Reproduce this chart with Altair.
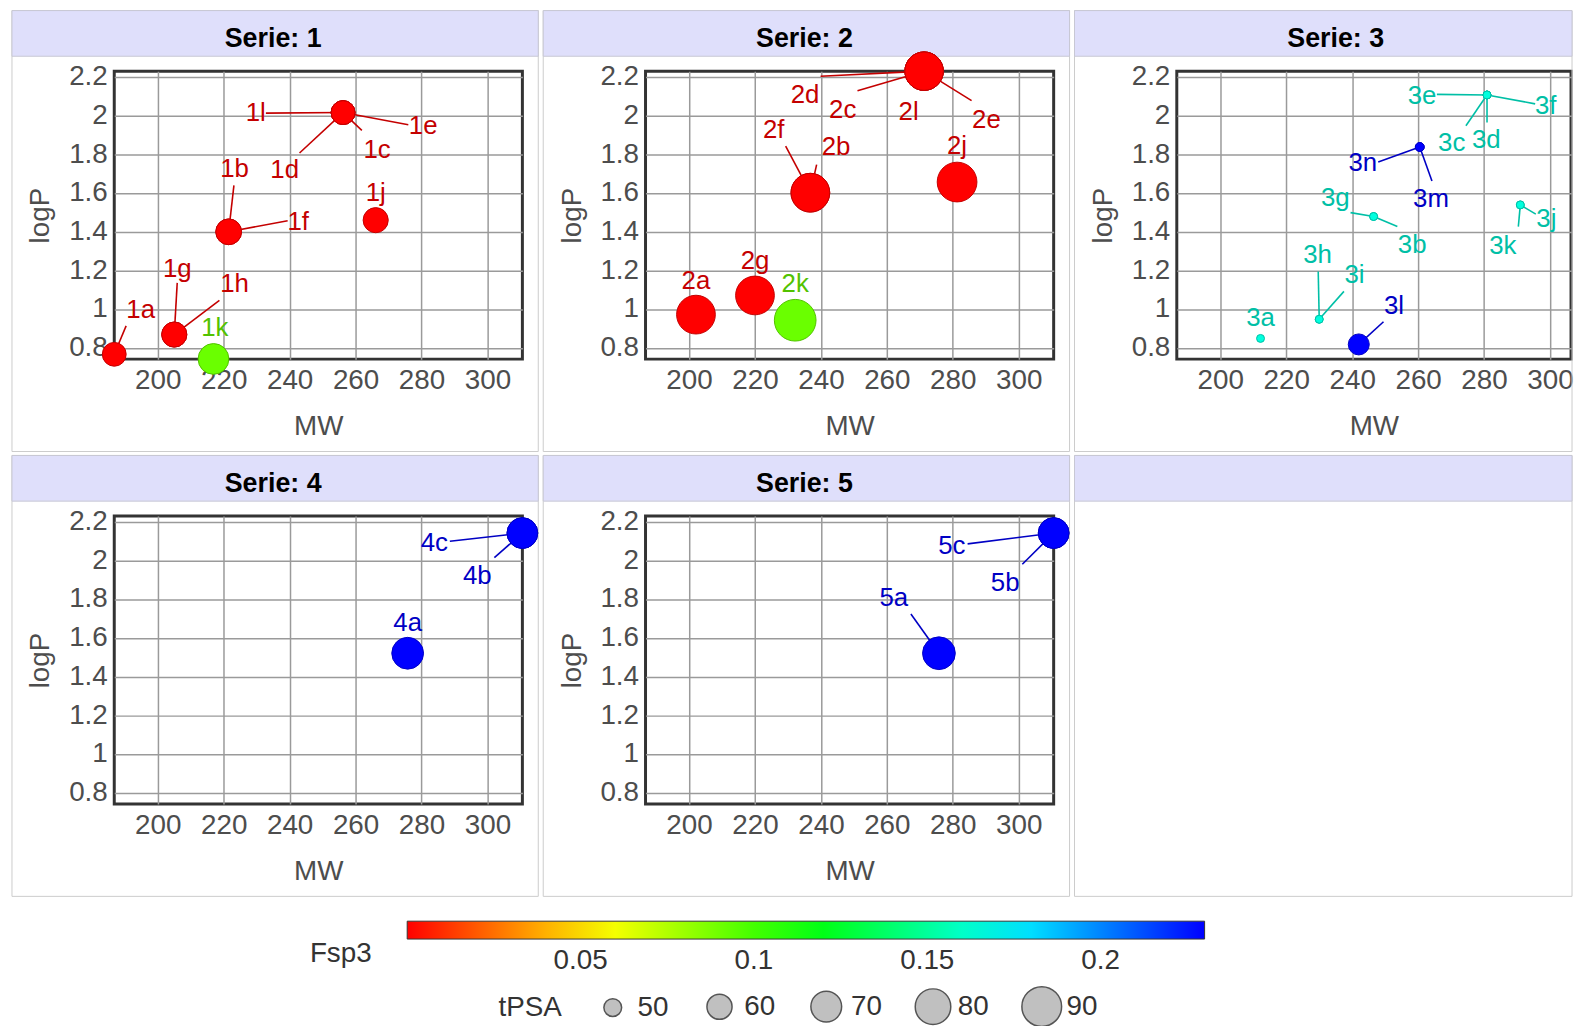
import altair as alt
import pandas as pd

# ---------------- data ----------------
series = [1] * 11 + [2] * 10 + [3] * 14 + [4] * 3 + [5] * 3
labels = ["1a", "1b", "1c", "1d", "1e", "1f", "1g", "1h", "1j", "1k", "1l",
          "2a", "2b", "2c", "2d", "2e", "2f", "2g", "2j", "2k", "2l",
          "3a", "3b", "3c", "3d", "3e", "3f", "3g", "3h", "3i", "3j", "3k", "3l", "3m", "3n",
          "4a", "4b", "4c",
          "5a", "5b", "5c"]
mw = [186.8, 221.5, 256.2, 256.2, 256.2, 221.5, 205.0, 205.0, 266.1, 216.9, 256.2,
      202.1, 236.8, 271.3, 271.3, 271.3, 236.8, 220.0, 281.3, 232.2, 271.3,
      212.2, 246.5, 280.9, 280.9, 280.9, 280.9, 246.5, 230.0, 230.0, 291.0, 291.0, 242.0, 260.5, 260.5,
      275.8, 310.6, 310.6,
      275.8, 310.6, 310.6]
logp = [0.766, 1.399, 2.015, 2.015, 2.015, 1.399, 0.868, 0.868, 1.459, 0.742, 2.015,
        0.971, 1.601, 2.229, 2.229, 2.229, 1.601, 1.070, 1.656, 0.942, 2.229,
        0.848, 1.478, 2.106, 2.106, 2.106, 2.106, 1.478, 0.947, 0.947, 1.538, 1.538, 0.817, 1.837, 1.837,
        1.520, 2.141, 2.141,
        1.520, 2.141, 2.141]
fsp3 = [0, 0, 0, 0, 0, 0, 0, 0, 0, 0.091, 0,
        0, 0, 0, 0, 0, 0, 0, 0, 0.091, 0,
        0.165, 0.165, 0.165, 0.165, 0.165, 0.165, 0.165, 0.165, 0.165, 0.165, 0.165, 0.23, 0.23, 0.23,
        0.23, 0.23, 0.23,
        0.23, 0.23, 0.23]
tpsa = [58, 61, 58, 58, 58, 61, 60, 60, 60, 70, 58,
        87.5, 87.5, 86.6, 86.6, 86.6, 87.5, 87.5, 90, 95, 86.6,
        42, 42, 42, 42, 42, 42, 42, 42, 42, 42, 42, 54, 42.5, 42.5,
        72, 70, 70,
        74, 70, 70]
label_mw = [194.8, 223.3, 266.5, 238.5, 280.5, 242.6, 205.9, 223.3, 266.1, 217.3, 229.7,
            202.1, 244.6, 246.6, 235.2, 290.2, 225.7, 220.0, 281.3, 232.2, 266.6,
            212.2, 258.2, 270.2, 280.7, 261.2, 298.7, 234.9, 229.5, 240.7, 298.9, 285.7, 252.7, 263.9, 243.2,
            275.8, 296.9, 283.9,
            262.1, 295.9, 279.7]
label_logp = [0.993, 1.721, 1.823, 1.717, 1.947, 1.450, 1.207, 1.130, 1.601, 0.899, 2.012,
              1.147, 1.835, 2.029, 2.106, 1.974, 1.923, 1.250, 1.841, 1.130, 2.020,
              0.951, 1.331, 1.858, 1.875, 2.102, 2.049, 1.575, 1.279, 1.177, 1.464, 1.327, 1.016, 1.567, 1.755,
              1.676, 1.921, 2.087,
              1.803, 1.882, 2.073]
segment_mw = [190.4, 223.1, 261.9, 243.0, 276.0, 239.4, 205.9, 218.7, None, None, 232.8,
              None, 238.7, 251.1, 239.9, 285.7, 229.3, None, None, None, 270.3,
              None, 253.7, 274.5, 280.9, 265.7, 295.5, 239.5, 229.7, 237.5, 295.7, 290.4, 249.5, 264.2, 247.9,
              None, 302.1, 288.6,
              267.3, 301.1, 284.5]
segment_logp = [0.913, 1.639, 1.923, 1.806, 1.952, 1.456, 1.135, 1.045, None, None, 2.012,
                None, 1.746, 2.128, 2.203, 2.077, 1.841, None, None, None, 2.128,
                None, 1.426, 1.947, 1.964, 2.109, 2.060, 1.498, 1.194, 1.091, 1.490, 1.426, 0.934, 1.661, 1.760,
                None, 2.014, 2.099,
                1.723, 1.980, 2.085]
strip_titles = ["Serie: 1", "Serie: 2", "Serie: 3", "Serie: 4", "Serie: 5", ""]

x_ticks = [200, 220, 240, 260, 280, 300]
y_ticks = [0.8, 1, 1.2, 1.4, 1.6, 1.8, 2, 2.2]
fsp3_ticks = [0.05, 0.1, 0.15, 0.2]
tpsa_ticks = [50, 60, 70, 80, 90]

df = pd.DataFrame({
    "serie": series, "label": labels, "mw": mw, "logp": logp, "fsp3": fsp3,
    "tpsa": tpsa, "label_mw": label_mw, "label_logp": label_logp,
    "seg_mw": segment_mw, "seg_logp": segment_logp,
})

# ---------------- styling ----------------
FONT = "Liberation Sans"
W, H = 411, 290            # plot area of a full panel
PX_PER_MW = 411 / (310.6 - 186.8)
W3 = 397                   # third column is cut by the page edge, as in the reference
fsp3_stops = [0, 0.0575, 0.115, 0.1725, 0.23]
# darker copy for labels / leader lines; last stop differs by a hair so that
# Vega-Lite keeps its (hidden) legend separate from the colour legend
dark_stops = [0, 0.0575, 0.115, 0.1725, 0.2300001]
rainbow = ["#ff0000", "#ffff00", "#00ff00", "#00ffff", "#0000ff"]
rainbow_dark = ["#c40000", "#c4c400", "#00c000", "#00bfbf", "#0000c4"]

ys = alt.Scale(domain=[0.741, 2.229], nice=False, zero=False)
x_axis = alt.Axis(values=x_ticks, title="MW")
y_axis = alt.Axis(values=y_ticks, format="~g", title="logP")

color_scale = alt.Scale(domain=fsp3_stops, range=rainbow, interpolate="rgb")
dark_scale = alt.Scale(domain=dark_stops, range=rainbow_dark, interpolate="rgb")
size_scale = alt.Scale(domain=[40, 100], range=[0, 1920], zero=False)

color_legend = alt.Legend(
    title="Fsp3", orient="none", direction="horizontal", legendX=197, legendY=856,
    gradientLength=803, gradientThickness=18, gradientStrokeColor="#333333",
    gradientStrokeWidth=1, values=fsp3_ticks, format="~g", titleOrient="left",
    titleAnchor="end", titleBaseline="top", titlePadding=35, labelOffset=8,
)
size_legend = alt.Legend(
    title="tPSA", orient="none", direction="horizontal", legendX=387, legendY=921,
    values=tpsa_ticks, titleOrient="left", titleAnchor="middle", titleBaseline="middle",
    titlePadding=30, columns=5, symbolType="circle", symbolFillColor="#c0c0c0",
    symbolStrokeColor="#555555", symbolStrokeWidth=1.5, labelOffset=4, columnPadding=29.5,
    symbolOpacity=1,
)


def decorations(i, right):
    deco = pd.DataFrame({"strip": [strip_titles[i]]})
    cell = alt.Chart(deco).mark_rect(fillOpacity=0, stroke="#cccccc", strokeWidth=1).encode(
        x=alt.value(-103), x2=alt.value(right), y=alt.value(-61), y2=alt.value(383))
    strip = alt.Chart(deco).mark_rect(fill="#dfdffb", stroke="#c8c8d4", strokeWidth=1).encode(
        x=alt.value(-103), x2=alt.value(right), y=alt.value(-61), y2=alt.value(-15))
    text = alt.Chart(deco).mark_text(font=FONT, fontSize=27, fontWeight="bold", color="#000000",
                                     baseline="middle", align="center").encode(
        x=alt.value(160), y=alt.value(-32), text="strip:N")
    return [cell, strip, text]


def panel(i):
    s = i + 1
    width = W3 if i == 2 else W
    right = 398 if i == 2 else 427
    xs = alt.Scale(domain=[186.8, 186.8 + width / PX_PER_MW], nice=False, zero=False)
    base = alt.Chart(df).transform_filter(alt.datum.serie == s)
    X = alt.X("mw:Q", scale=xs, axis=x_axis)
    Y = alt.Y("logp:Q", scale=ys, axis=y_axis)
    rules = base.transform_filter("isValid(datum.seg_mw)").mark_rule(strokeWidth=1.6).encode(
        x=X, y=Y, x2="seg_mw:Q", y2="seg_logp:Q",
        stroke=alt.Stroke("fsp3:Q", scale=dark_scale, legend=None))
    pts = base.mark_circle(opacity=1, strokeWidth=1).encode(
        x=X, y=Y,
        color=alt.Color("fsp3:Q", scale=color_scale, legend=color_legend, title="Fsp3"),
        size=alt.Size("tpsa:Q", scale=size_scale, legend=size_legend, title="tPSA"),
        stroke=alt.Stroke("fsp3:Q", scale=dark_scale, legend=None))
    texts = base.mark_text(font=FONT, fontSize=26, align="center", baseline="middle").encode(
        x=alt.X("label_mw:Q", scale=xs, axis=x_axis),
        y=alt.Y("label_logp:Q", scale=ys, axis=y_axis),
        text="label:N",
        fill=alt.Fill("fsp3:Q", scale=dark_scale, legend=None))
    return alt.layer(*decorations(i, right), rules, pts, texts).properties(width=width, height=H)


panels = [panel(i) for i in range(5)]
empty = alt.layer(*decorations(5, 398)[:2]).properties(
    width=W3, height=H, view=alt.ViewBackground(stroke="transparent"))
panels.append(empty)

chart = alt.concat(*panels, columns=3, spacing=0, align="each").properties(
    padding={"left": 2, "top": -3, "right": 0, "bottom": 0}
).configure(font=FONT).configure_view(
    stroke="#333333", strokeWidth=3
).configure_axis(
    grid=True, gridColor="#9a9a9a", gridWidth=1.5, domain=False, ticks=False,
    labelFont=FONT, titleFont=FONT, labelFontSize=28, titleFontSize=28,
    labelColor="#4d4d4d", titleColor="#4d4d4d", titleFontWeight="normal",
    labelFlush=False, labelOverlap=False,
).configure_axisX(labelPadding=8, titlePadding=18).configure_axisY(
    labelPadding=7, titlePadding=14
).configure_legend(
    labelFont=FONT, titleFont=FONT, labelFontSize=28, titleFontSize=28,
    titleFontWeight="normal", labelColor="#333333", titleColor="#333333", padding=0,
)

chart.save("out.html", embed_options={"renderer": "svg", "actions": False})
